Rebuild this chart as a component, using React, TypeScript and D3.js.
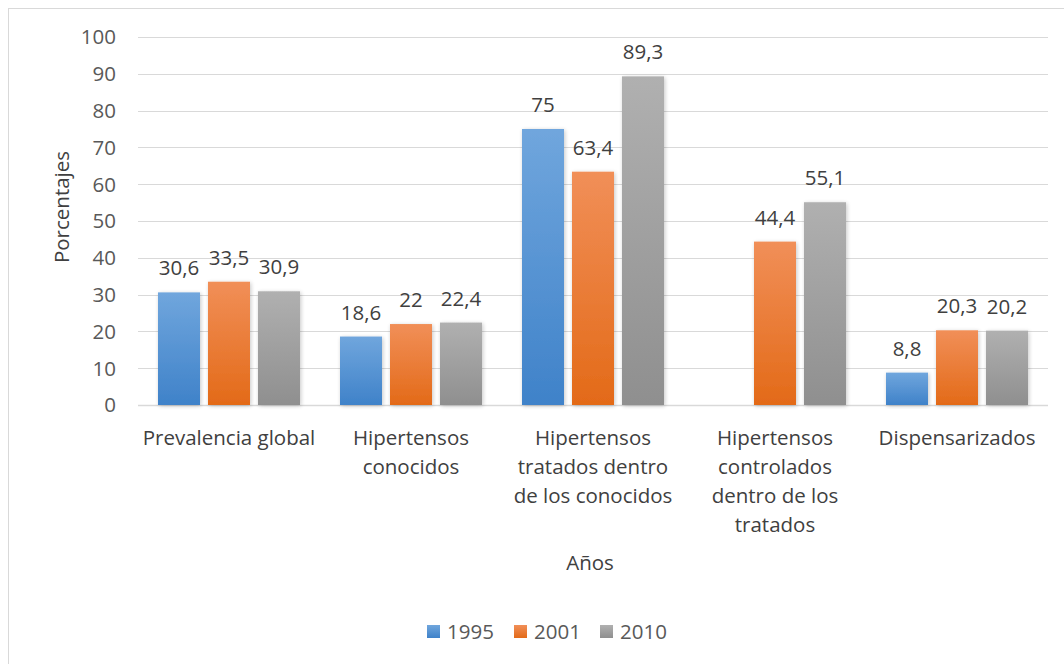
import React from "react";
import * as d3 from "d3";

const categories: string[][] = [
  ["Prevalencia global"],
  ["Hipertensos", "conocidos"],
  ["Hipertensos", "tratados dentro", "de los conocidos"],
  ["Hipertensos", "controlados", "dentro de los", "tratados"],
  ["Dispensarizados"],
];
const seriesNames = ["1995", "2001", "2010"];
const values1995: (number | null)[] = [30.6, 18.6, 75, null, 8.8];
const values2001: (number | null)[] = [33.5, 22, 63.4, 44.4, 20.3];
const values2010: (number | null)[] = [30.9, 22.4, 89.3, 55.1, 20.2];
const yTicks = [0, 10, 20, 30, 40, 50, 60, 70, 80, 90, 100];

const seriesValues = [values1995, values2001, values2010];
const gradients = [
  { id: "g1995", top: "#70a6dd", bottom: "#3f82c9" },
  { id: "g2001", top: "#f18f58", bottom: "#e36a18" },
  { id: "g2010", top: "#b0b0b0", bottom: "#8f8f8f" },
];

const FONT = "'Open Sans', Lato, sans-serif";
const FS = 20.5;

export default function App() {
  const width = 1064;
  const height = 664;
  const left = 138;
  const right = 1048;
  const top = 37;
  const bottom = 405;

  const x0 = d3
    .scaleBand<number>()
    .domain(categories.map((_, i) => i))
    .range([left, right])
    .paddingInner(0)
    .paddingOuter(0);
  const groupW = 142;
  const x1 = d3
    .scaleBand<number>()
    .domain([0, 1, 2])
    .range([0, groupW])
    .paddingInner(0.16)
    .paddingOuter(0);
  const y = d3.scaleLinear().domain([0, 100]).range([bottom, top]);

  const fmt = (v: number) => String(v).replace(".", ",");

  return (
    <svg
      width={width}
      height={height}
      style={{ position: "absolute", left: 0, top: 0, background: "#fff" }}
    >
      <defs>
        {gradients.map((g) => (
          <linearGradient key={g.id} id={g.id} x1="0" y1="0" x2="0" y2="1">
            <stop offset="0%" stopColor={g.top} />
            <stop offset="100%" stopColor={g.bottom} />
          </linearGradient>
        ))}
        <filter id="shadow" x="-30%" y="-10%" width="160%" height="120%">
          <feGaussianBlur in="SourceAlpha" stdDeviation="2" />
          <feOffset dx="1" dy="1" result="b" />
          <feComponentTransfer>
            <feFuncA type="linear" slope="0.22" />
          </feComponentTransfer>
          <feMerge>
            <feMergeNode />
            <feMergeNode in="SourceGraphic" />
          </feMerge>
        </filter>
      </defs>
      <rect x={8.5} y={8.5} width={1070} height={670} fill="#fff" stroke="#d9d9d9" strokeWidth={1} />

      {yTicks.map((t) => (
        <g key={t}>
          <line
            x1={left}
            x2={right}
            y1={Math.round(y(t)) + 0.5}
            y2={Math.round(y(t)) + 0.5}
            stroke="#d9d9d9"
            strokeWidth={t === 0 ? 1.5 : 1}
          />
          <text
            x={116}
            y={y(t)}
            dy="0.36em"
            textAnchor="end"
            fontFamily={FONT}
            fontSize={FS}
            fill="#595959"
          >
            {t}
          </text>
        </g>
      ))}

      {categories.map((_, ci) => {
        const gx = (x0(ci) as number) + (x0.bandwidth() - groupW) / 2;
        return (
          <g key={ci}>
            {seriesValues.map((vals, si) => {
              const v = vals[ci];
              if (v === null) return null;
              const bx = gx + (x1(si) as number);
              const bw = x1.bandwidth();
              return (
                <g key={si}>
                  <rect
                    x={bx}
                    y={y(v)}
                    width={bw}
                    height={bottom - y(v)}
                    fill={`url(#${gradients[si].id})`}
                    filter="url(#shadow)"
                  />
                  <text
                    x={bx + bw / 2}
                    y={y(v) - 17}
                    textAnchor="middle"
                    fontFamily={FONT}
                    fontSize={FS}
                    fill="#404040"
                  >
                    {fmt(v)}
                  </text>
                </g>
              );
            })}
          </g>
        );
      })}

      {categories.map((lines, ci) => (
        <text
          key={ci}
          x={(x0(ci) as number) + x0.bandwidth() / 2}
          y={445}
          textAnchor="middle"
          fontFamily={FONT}
          fontSize={FS}
          fill="#404040"
        >
          {lines.map((l, li) => (
            <tspan key={li} x={(x0(ci) as number) + x0.bandwidth() / 2} dy={li === 0 ? 0 : 29}>
              {l}
            </tspan>
          ))}
        </text>
      ))}

      <text x={590} y={570} textAnchor="middle" fontFamily={FONT} fontSize={FS} fill="#404040">
        Años
      </text>
      <text
        transform={`translate(69,207) rotate(-90)`}
        textAnchor="middle"
        fontFamily={FONT}
        fontSize={FS}
        fill="#404040"
      >
        Porcentajes
      </text>

      {seriesNames.map((n, i) => {
        const lx = [427, 514, 600][i];
        return (
          <g key={n}>
            <rect x={lx} y={625} width={13} height={13} fill={`url(#${gradients[i].id})`} />
            <text x={lx + 20} y={639} fontFamily={FONT} fontSize={FS} fill="#595959">
              {n}
            </text>
          </g>
        );
      })}
    </svg>
  );
}
